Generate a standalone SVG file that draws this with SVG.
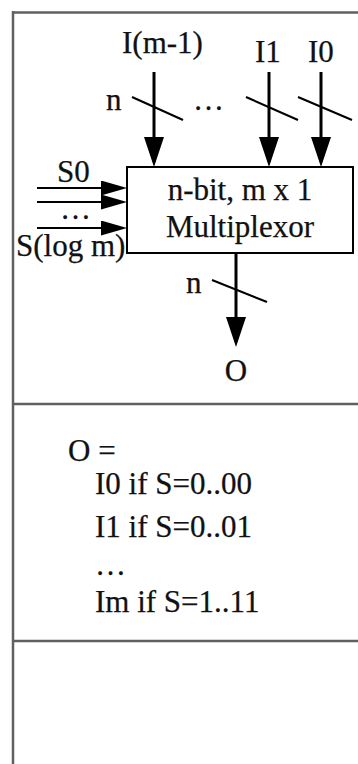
<svg xmlns="http://www.w3.org/2000/svg" width="358" height="764" viewBox="0 0 358 764">
  <style>
    .t { font-family: "Liberation Serif", "Times New Roman", serif; font-size: 31px; fill: #111; stroke: #111; stroke-width: 0.25; }
    .mid { text-anchor: middle; }
    .frame { stroke: #606060; stroke-width: 2.5; fill: none; }
    .wire { stroke: #000; stroke-width: 3; fill: none; }
    .sel { stroke: #000; stroke-width: 2; fill: none; }
    .slash { stroke: #000; stroke-width: 2; fill: none; }
    .box { fill: #fff; stroke: #000; stroke-width: 2; }
  </style>
  <defs>
    <marker id="big" viewBox="0 0 30 20" refX="25" refY="10" markerWidth="30" markerHeight="20" markerUnits="userSpaceOnUse" orient="auto">
      <path d="M0,0 L30,10 L0,20 z" fill="#000"/>
    </marker>
    <marker id="small" viewBox="0 0 26 15" refX="22" refY="7.5" markerWidth="26" markerHeight="15" markerUnits="userSpaceOnUse" orient="auto">
      <path d="M0,0 L26,7.5 L0,15 z" fill="#000"/>
    </marker>
  </defs>
  <rect width="358" height="764" fill="#fff"/>

  <g id="frame">
    <line class="frame" x1="13" y1="12.5" x2="358" y2="12.5"/>
    <line class="frame" x1="13" y1="11" x2="13" y2="764"/>
    <line class="frame" x1="13" y1="404" x2="358" y2="404"/>
    <line class="frame" x1="13" y1="641" x2="358" y2="641"/>
  </g>

  <g id="connectors">
    <line class="wire" x1="154" y1="72" x2="154" y2="162" marker-end="url(#big)"/>
    <line class="wire" x1="269" y1="72" x2="269" y2="162" marker-end="url(#big)"/>
    <line class="wire" x1="321" y1="72" x2="321" y2="162" marker-end="url(#big)"/>
    <line class="wire" x1="236" y1="253" x2="236" y2="342" marker-end="url(#big)"/>
    <line class="sel" x1="37" y1="188" x2="123" y2="188" marker-end="url(#small)"/>
    <line class="sel" x1="37" y1="202" x2="123" y2="202" marker-end="url(#small)"/>
    <line class="sel" x1="37" y1="228" x2="123" y2="228" marker-end="url(#small)"/>
    <line class="slash" x1="132" y1="97" x2="183" y2="120"/>
    <line class="slash" x1="246" y1="97" x2="298" y2="120"/>
    <line class="slash" x1="298" y1="97" x2="352" y2="120"/>
    <line class="slash" x1="212" y1="280" x2="267" y2="302"/>
  </g>

  <g id="mux">
    <rect class="box" x="127" y="167" width="226" height="86"/>
    <text class="t mid" x="240" y="200">n-bit, m x 1</text>
    <text class="t mid" x="240" y="237">Multiplexor</text>
  </g>

  <g id="inputs">
    <text class="t" x="122" y="53">I(m-1)</text>
    <text class="t" x="255" y="62">I1</text>
    <text class="t" x="308" y="62">I0</text>
    <text class="t" x="106" y="110">n</text>
    <text class="t" x="193" y="110">…</text>
  </g>

  <g id="selects">
    <text class="t" x="57" y="182">S0</text>
    <text class="t" x="60" y="219">…</text>
    <text class="t" x="16" y="256">S(log m)</text>
  </g>

  <g id="output">
    <text class="t" x="186" y="293">n</text>
    <text class="t mid" x="236" y="381">O</text>
  </g>

  <g id="definition">
    <text class="t" x="68" y="461">O =</text>
    <text class="t" x="95" y="494">I0 if S=0..00</text>
    <text class="t" x="95" y="537">I1 if S=0..01</text>
    <text class="t" x="95" y="575">…</text>
    <text class="t" x="95" y="612">Im if S=1..11</text>
  </g>
</svg>
